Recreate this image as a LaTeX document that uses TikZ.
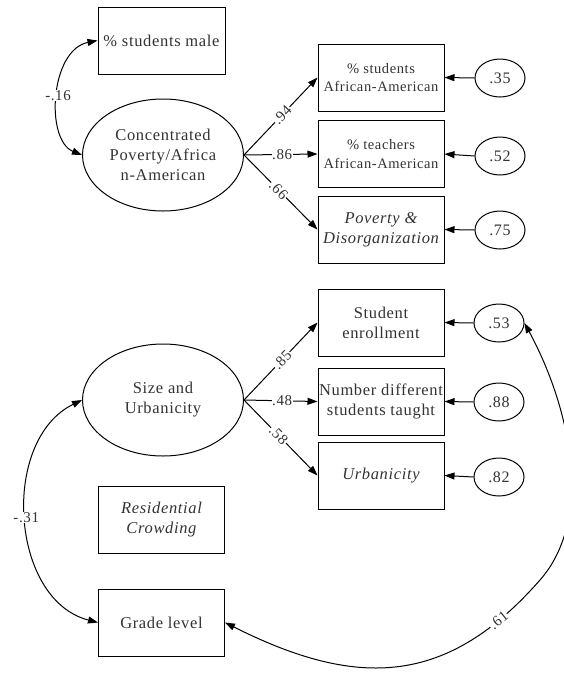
\documentclass[tikz,border=0pt]{standalone}
\usepackage{fontspec}
\setmainfont[LetterSpace=4]{Liberation Serif}
\usetikzlibrary{shapes.geometric,arrows.meta}
\tikzset{
  box/.style={draw, line width=1pt, minimum width=126pt, minimum height=67pt, align=center, inner sep=1pt, text=black!80},
  latent/.style={draw, ellipse, line width=1pt, minimum width=161pt, minimum height=112pt, inner sep=0pt, align=center, text=black!80, font=\fontsize{16.5}{20}\selectfont},
  err/.style={draw, ellipse, line width=1pt, minimum width=50pt, minimum height=38pt, inner sep=0pt, text=black!80, font=\fontsize{16}{19}\selectfont},
  big/.style={font=\fontsize{16.5}{20}\selectfont},
  small/.style={font=\fontsize{14.5}{18.3}\selectfont},
  ital/.style={font=\fontsize{16.5}{20}\selectfont\itshape},
  conn/.style={line width=1pt, -{Triangle[length=10pt,width=7pt]}},
  biconn/.style={line width=1pt, {Triangle[length=10pt,width=7pt]}-{Triangle[length=10pt,width=7pt]}},
  lab/.style={fill=white, inner sep=0.5pt, text=black!80, font=\fontsize{15}{18}\selectfont}
}
\begin{document}
\begin{tikzpicture}[x=1pt,y=-1pt]
\useasboundingbox (0,0) rectangle (564,673);
% top model
\node[box,big,minimum width=127pt] (male) at (161.5,40.5) {\% students male};
\node[latent] (cp) at (163,155) {Concentrated\\Poverty/Africa\\n-American};
\node[box,small] (b1) at (381,77.5) {\% students\\African-American};
\node[box,small] (b2) at (381,154) {\% teachers\\African-American};
\node[box,ital] (b3) at (381,229.5) {Poverty \&\\Disorganization};
\node[err] (e1) at (500,78) {.35};
\node[err] (e2) at (500,156) {.52};
\node[err] (e3) at (500,230) {.75};
\draw[conn] (cp.east) -- node[lab,sloped,pos=0.52] {.94} (b1.west);
\draw[conn] (cp.east) -- node[lab,pos=0.52] {.86} (b2.west);
\draw[conn] (cp.east) -- node[lab,sloped,pos=0.47] {.66} (b3.west);
\draw[conn] (e1.west) -- (b1.east);
\draw[conn] (e2.west) -- (b2.east);
\draw[conn] (e3.west) -- (b3.east);
\draw[biconn] (male.west) .. controls (50,50) and (45,140) .. node[lab,pos=0.5] {-.16} (cp.west);
% bottom model
\node[latent] (su) at (163,400) {Size and\\Urbanicity};
\node[box,big] (c1) at (381,322.5) {Student\\enrollment};
\node[box,big] (c2) at (381,401.5) {Number different\\students taught};
\node[box,ital] (c3) at (381,475.5) {Urbanicity};
\node[err] (f1) at (499,323) {.53};
\node[err] (f2) at (499,402) {.88};
\node[err] (f3) at (499,477) {.82};
\draw[conn] (su.east) -- node[lab,sloped,pos=0.52] {.85} (c1.west);
\draw[conn] (su.east) -- node[lab,pos=0.52] {.48} (c2.west);
\draw[conn] (su.east) -- node[lab,sloped,pos=0.47] {.58} (c3.west);
\draw[conn] (f1.west) -- (c1.east);
\draw[conn] (f2.west) -- (c2.east);
\draw[conn] (f3.west) -- (c3.east);
\node[box,ital] (rc) at (161.5,519.5) {Residential\\Crowding};
\node[box,big] (gl) at (161.5,622.5) {Grade level};
\draw[biconn] (gl.west) .. controls (10,600) and (0,440) .. node[lab,pos=0.5] {-.31} (su.west);
\coordinate (mid) at (540,580);
\draw[biconn] (gl.east) .. controls (359,690) and (448,685) .. (mid)
  node[lab,sloped,pos=0.85] {.61}
  .. controls (593,520) and (572,411) .. (f1.east);
\end{tikzpicture}
\end{document}
